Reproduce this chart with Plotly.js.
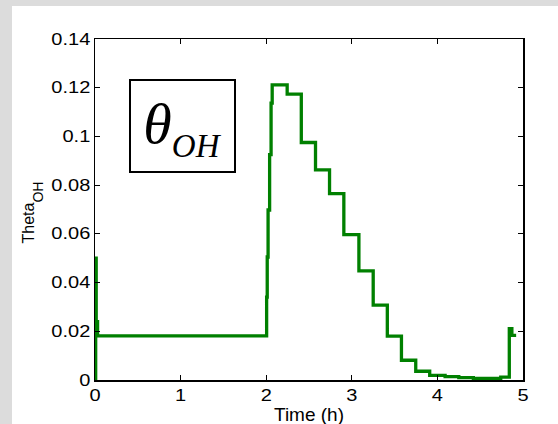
<!DOCTYPE html>
<html>
<head>
<meta charset="utf-8">
<script src="https://cdn.plot.ly/plotly-3.0.1.min.js"></script>
<style>
  html, body { margin: 0; padding: 0; background: #dcdcdc; width: 558px; height: 424px; overflow: hidden; }
  #chart { position: absolute; left: 12px; top: 6px; width: 546px; height: 418px; background: #ffffff; overflow: hidden; }
</style>
</head>
<body>
<div id="chart"></div>
<script>
// Step-series: time (h) at which the value steps to the listed level
var timeH = [0.008, 0.008, 0.014, 0.03, 2.005, 2.012, 2.022, 2.04, 2.057, 2.07, 2.245, 2.41, 2.576, 2.74, 2.907, 3.083, 3.25, 3.415, 3.58, 3.747, 3.91, 4.09, 4.25, 4.42, 4.74, 4.84, 4.87, 4.92];
var thetaOH = [0, 0.050, 0.024, 0.0181, 0.034, 0.0505, 0.0698, 0.0925, 0.1137, 0.1212, 0.1174, 0.0975, 0.0863, 0.0765, 0.0597, 0.0448, 0.0307, 0.018, 0.0081, 0.0036, 0.0019, 0.0014, 0.0010, 0.0007, 0.0012, 0.0211, 0.0183, 0.0183];

var xTickVals = [0, 1, 2, 3, 4, 5];
var xTickText = ['0', '1', '2', '3', '4', '5'];
var yTickVals = [0, 0.02, 0.04, 0.06, 0.08, 0.1, 0.12, 0.14];
var yTickText = ['0', '0.02', '0.04', '0.06', '0.08', '0.1', '0.12', '0.14'];

var trace = {
  x: timeH,
  y: thetaOH,
  type: 'scatter',
  mode: 'lines',
  line: { color: '#008000', width: 3.3, shape: 'hv' },
  hoverinfo: 'skip'
};

var axisCommon = {
  showgrid: false,
  zeroline: false,
  showline: true,
  linecolor: '#000000',
  linewidth: 1.5,
  mirror: 'ticks',
  ticks: 'inside',
  ticklen: 5,
  tickwidth: 1,
  tickcolor: '#000000',
  tickfont: { family: 'Liberation Sans, Arial, sans-serif', size: 16, color: '#000000' },
  fixedrange: true
};

var layout = {
  width: 546,
  height: 418,
  margin: { l: 83, r: 35, t: 33, b: 44 },
  paper_bgcolor: '#ffffff',
  plot_bgcolor: '#ffffff',
  showlegend: false,
  xaxis: Object.assign({}, axisCommon, {
    range: [0, 5],
    tickmode: 'array',
    tickvals: xTickVals,
    ticktext: xTickText,
    title: { text: 'Time (h)', font: { family: 'Liberation Sans, Arial, sans-serif', size: 19, color: '#000000' } }
  }),
  yaxis: Object.assign({}, axisCommon, {
    range: [0, 0.14],
    tickmode: 'array',
    tickvals: yTickVals,
    ticktext: yTickText,
    title: { text: 'Theta<sub><span style="font-size:14px">OH</span></sub>', font: { family: 'Liberation Sans, Arial, sans-serif', size: 16, color: '#000000' }, standoff: 20 }
  }),
  annotations: [{
    xref: 'paper', yref: 'paper',
    x: 0.204, y: 0.745,
    xanchor: 'center', yanchor: 'middle',
    showarrow: false,
    text: '<i><span style="font-size:58px">θ</span><sub><span style="font-size:33px">OH</span></sub></i>',
    font: { family: 'Liberation Serif, Times New Roman, serif', size: 50, color: '#000000' },
    width: 103, height: 90,
    bordercolor: '#000000', borderwidth: 2, borderpad: 0,
    bgcolor: '#ffffff'
  }]
};

Plotly.newPlot('chart', [trace], layout, { displayModeBar: false, staticPlot: true }).then(function () {
  // horizontally widen tick labels to match the reference's wide lettering
  var sx = 1.25;
  document.querySelectorAll('#chart g.ytick, #chart g.xtick').forEach(function (g) {
    var bb = g.getBBox();
    var isY = g.classList.contains('ytick');
    var px = isY ? (bb.x + bb.width) : (bb.x + bb.width / 2);
    var prev = g.getAttribute('transform') || '';
    g.setAttribute('transform', prev + ' translate(' + px + ',0) scale(' + sx + ',1) translate(' + (-px) + ',0)');
  });
  // deeper subscripts, as in the reference
  function deepenSub(sel, px) {
    document.querySelectorAll(sel + ' tspan[dy]').forEach(function (t) {
      if (t.getAttribute('dy') === '0.3em' && t.textContent.length) t.setAttribute('dy', px + 'px');
    });
  }
  deepenSub('#chart .g-ytitle', 8.5);
  deepenSub('#chart .annotation-text', 14);
  function nudge(sel, dx, dy) {
    var g = document.querySelector(sel);
    if (!g) return;
    var prev = g.getAttribute('transform') || '';
    g.setAttribute('transform', 'translate(' + dx + ',' + dy + ') ' + prev);
  }
  nudge('#chart .g-xtitle', 0, 1);
  nudge('#chart .g-ytitle', 0, 3);
});
</script>
</body>
</html>
